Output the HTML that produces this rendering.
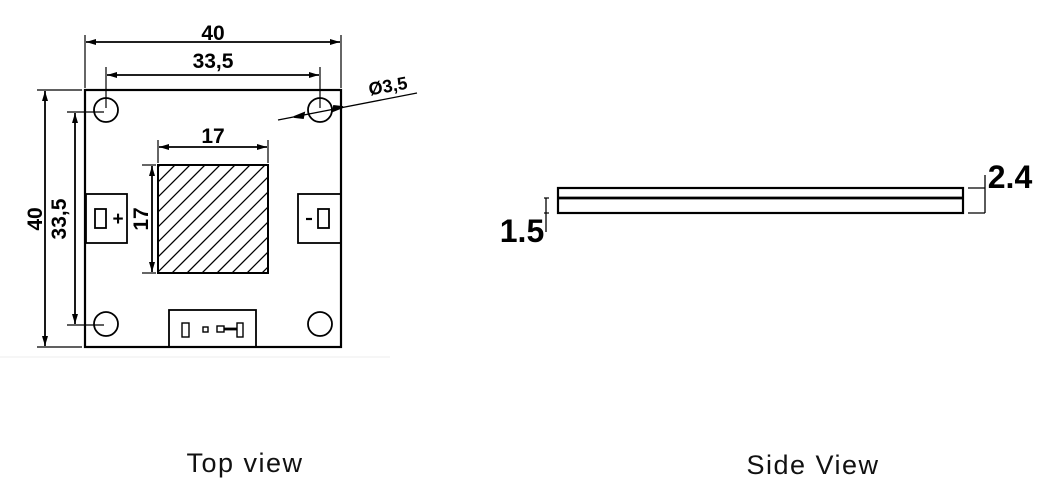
<!DOCTYPE html>
<html><head><meta charset="utf-8"><style>
body{margin:0;background:#fff;width:1060px;height:502px;overflow:hidden}
svg{display:block}
</style></head><body>
<svg width="1060" height="502" viewBox="0 0 1060 502" xmlns="http://www.w3.org/2000/svg" font-family="Liberation Sans, sans-serif">
<defs>
<marker id="a" viewBox="0 0 10 6" refX="10" refY="3" markerWidth="10" markerHeight="6" orient="auto-start-reverse" markerUnits="userSpaceOnUse"><path d="M0,0L10,3L0,6z" fill="#000"/></marker>
<clipPath id="c"><rect x="158" y="165" width="110" height="108"/></clipPath>
</defs>
<g stroke="#000" fill="none" stroke-width="1.8">
<rect x="85" y="90" width="256" height="257" stroke-width="2.2"/>
<line x1="85" y1="35" x2="85" y2="88" stroke-width="1.2"/>
<line x1="341" y1="35" x2="341" y2="88" stroke-width="1.2"/>
<line x1="86" y1="42" x2="340" y2="42" marker-start="url(#a)" marker-end="url(#a)"/>
<line x1="106" y1="67" x2="106" y2="108" stroke-width="1.2"/>
<line x1="320" y1="67" x2="320" y2="108" stroke-width="1.2"/>
<line x1="107" y1="75" x2="319" y2="75" marker-start="url(#a)" marker-end="url(#a)"/>
<line x1="37" y1="90" x2="82" y2="90" stroke-width="1.2"/>
<line x1="37" y1="347" x2="82" y2="347" stroke-width="1.2"/>
<line x1="45" y1="91" x2="45" y2="346" marker-start="url(#a)" marker-end="url(#a)"/>
<line x1="67" y1="112" x2="104" y2="112" stroke-width="1.2"/>
<line x1="67" y1="325" x2="104" y2="325" stroke-width="1.2"/>
<line x1="75" y1="113" x2="75" y2="324" marker-start="url(#a)" marker-end="url(#a)"/>
<circle cx="106" cy="110" r="12"/><circle cx="320" cy="110" r="12"/>
<circle cx="106" cy="324" r="12"/><circle cx="320" cy="324" r="12"/>
<line x1="278" y1="120" x2="417" y2="93" stroke-width="1.3"/>
<path d="M294,117 l10,-4 l-1,5z M343,107 l-10,4 l1,-5z" fill="#000"/>
<rect x="158" y="165" width="110" height="108" stroke-width="2"/>
<g clip-path="url(#c)" stroke-width="1.3">
<path d="M150,280 L280,150 M150,265 L280,135 M150,250 L280,120 M150,235 L280,105 M150,220 L280,90 M150,205 L280,75 M150,190 L280,60 M150,175 L280,45 M150,295 L280,165 M150,310 L280,180 M150,325 L280,195 M150,340 L280,210 M150,355 L280,225 M150,370 L280,240 M150,385 L280,255 M150,400 L280,270"/>
</g>
<line x1="158" y1="140" x2="158" y2="163" stroke-width="1.2"/>
<line x1="268" y1="140" x2="268" y2="163" stroke-width="1.2"/>
<line x1="159" y1="147" x2="267" y2="147" marker-start="url(#a)" marker-end="url(#a)"/>
<line x1="142" y1="165" x2="156" y2="165" stroke-width="1.2"/>
<line x1="142" y1="273" x2="156" y2="273" stroke-width="1.2"/>
<line x1="152" y1="166" x2="152" y2="272" marker-start="url(#a)" marker-end="url(#a)"/>
<rect x="86" y="194" width="41" height="49"/>
<rect x="95" y="209" width="11" height="19"/>
<rect x="298" y="194" width="43" height="49"/>
<rect x="318" y="209" width="11" height="19"/>
<line x1="306" y1="219" x2="312" y2="219" stroke-width="2.2"/>
<rect x="169" y="310" width="87" height="37"/>
<rect x="182" y="323" width="7" height="14" stroke-width="1.4"/>
<rect x="203" y="327" width="5" height="5" stroke-width="1.4"/>
<rect x="217" y="326" width="7" height="6" stroke-width="1.4"/>
<line x1="224" y1="329" x2="237" y2="329" stroke-width="2.8"/>
<rect x="237" y="323" width="6" height="14" stroke-width="1.4"/>
<rect x="558" y="188" width="405" height="25" stroke-width="2.2"/>
<line x1="558" y1="198" x2="963" y2="198" stroke-width="2.8"/>
<line x1="968" y1="188" x2="985" y2="188" stroke-width="1.3"/>
<line x1="968" y1="213" x2="985" y2="213" stroke-width="1.3"/>
<line x1="985" y1="175" x2="985" y2="213" stroke-width="1.3"/>
<line x1="546" y1="198" x2="546" y2="232" stroke-width="1.3"/>
<line x1="544" y1="198" x2="549" y2="198" stroke-width="1.2"/>
<line x1="544" y1="213" x2="549" y2="213" stroke-width="1.2"/>
</g>
<g font-weight="bold" fill="#000" text-anchor="middle">
<text x="213" y="40" font-size="21">40</text>
<text x="213" y="68" font-size="21">33,5</text>
<text x="213" y="143" font-size="21">17</text>
<text x="118" y="225" font-size="19">+</text>
<text transform="translate(42,219) rotate(-90)" font-size="21">40</text>
<text transform="translate(66,219) rotate(-90)" font-size="21">33,5</text>
<text transform="translate(148,219) rotate(-90)" font-size="21">17</text>
<text transform="translate(389,92) rotate(-10)" font-size="18">Ø3,5</text>
<text x="1010" y="188" font-size="32">2.4</text>
<text x="522" y="242" font-size="32">1.5</text>
</g>
<g fill="#111" font-size="27" text-anchor="middle" letter-spacing="1.5">
<text x="245" y="472">Top view</text>
<text x="813" y="474">Side View</text>
</g>
<line x1="0" y1="357" x2="390" y2="357" stroke="#eee" stroke-width="1"/>
</svg>
</body></html>
